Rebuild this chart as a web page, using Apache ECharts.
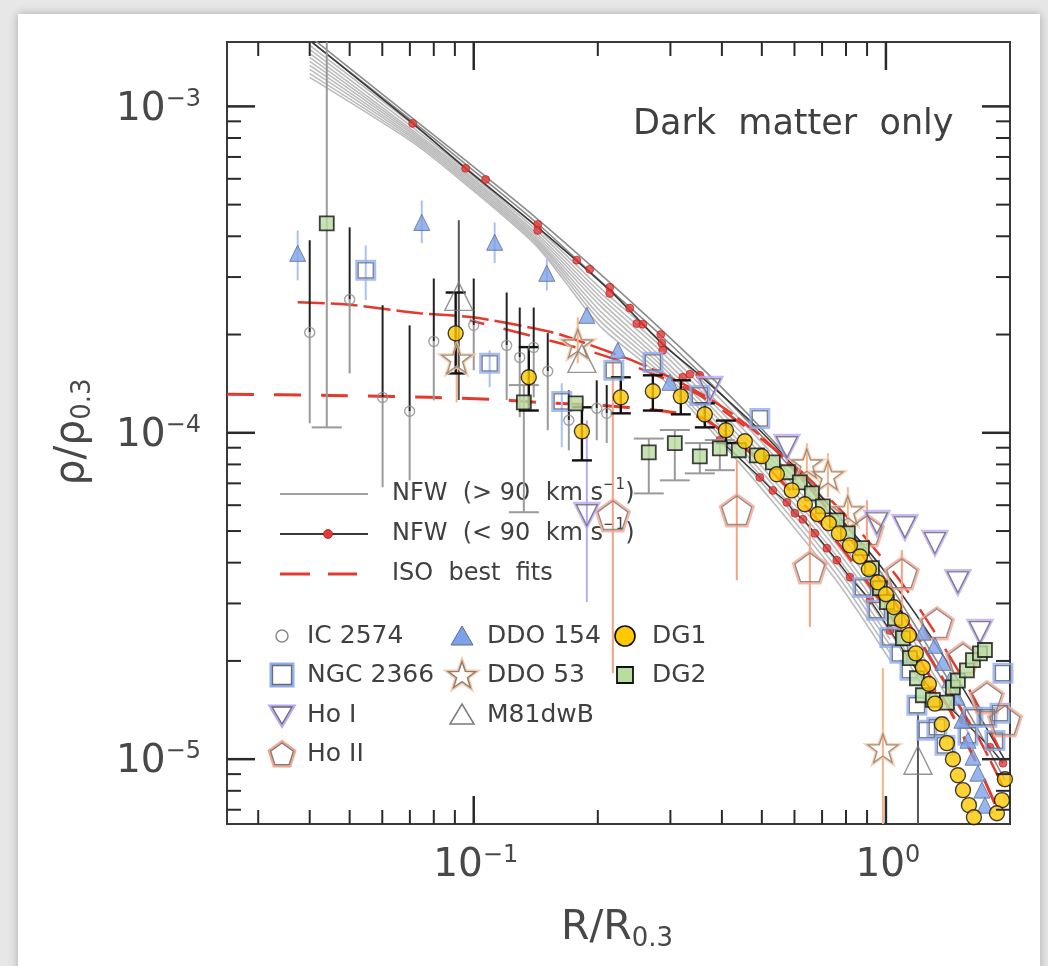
<!DOCTYPE html>
<html><head><meta charset="utf-8">
<script src="https://cdn.jsdelivr.net/npm/echarts@6/dist/echarts.min.js"></script>
<style>
html,body{margin:0;padding:0;background:#e7e7e7;width:1048px;height:966px;overflow:hidden}
#panel{position:absolute;left:18px;top:14px;width:1022px;height:970px;background:#fff;box-shadow:0 0 9px rgba(0,0,0,0.28)}
#chart{position:absolute;left:0;top:0;width:1048px;height:966px}
</style></head><body><div id="panel"></div><div id="chart"></div>
<script>
// ---------------- data ----------------
const xTickMajor = [0.1, 1];
const xTickExp = ['\u22121', '0'];
const xTickMinor = [0.03,0.04,0.05,0.06,0.07,0.08,0.09,0.2,0.3,0.4,0.5,0.6,0.7,0.8,0.9];
const yTickMajor = [1e-5, 1e-4, 1e-3];
const yTickExp = ['\u22125', '\u22124', '\u22123'];
const yTickMinor = [7e-6,8e-6,9e-6,2e-5,3e-5,4e-5,5e-5,6e-5,7e-5,8e-5,9e-5,2e-4,3e-4,4e-4,5e-4,6e-4,7e-4,8e-4,9e-4];

// NFW (> 90 km/s) grey curves
const nfwGrayX = [0.0400, 0.0711, 0.0956, 0.143, 0.202, 0.283, 0.395, 0.553, 0.773, 1.023, 1.279, 1.599, 1.944];
const nfwGray1  = [1.64e-3, 9.19e-4, 6.83e-4, 4.51e-4, 3.08e-4, 2.09e-4, 1.397e-4, 8.96e-5, 5.47e-5, 3.41e-5, 2.16e-5, 1.364e-5, 8.62e-6];
const nfwGray2  = [1.59e-3, 9.00e-4, 6.66e-4, 4.37e-4, 2.93e-4, 2.00e-4, 1.33e-4, 8.5e-5, 5.2e-5, 3.2e-5, 2.02e-5, 1.27e-5];
const nfwGray3  = [1.538e-3, 8.81e-4, 6.50e-4, 4.23e-4, 2.79e-4, 1.92e-4, 1.275e-4, 8.12e-5, 4.92e-5, 3.03e-5, 1.90e-5, 1.184e-5];
const nfwGray4  = [1.495e-3, 8.62e-4, 6.39e-4, 4.14e-4, 2.70e-4, 1.85e-4, 1.22e-4, 7.75e-5, 4.67e-5, 2.86e-5, 1.79e-5];
const nfwGray5  = [1.453e-3, 8.44e-4, 6.28e-4, 4.05e-4, 2.62e-4, 1.789e-4, 1.172e-4, 7.41e-5, 4.43e-5, 2.70e-5, 1.684e-5];
const nfwGray6  = [1.413e-3, 8.32e-4, 6.19e-4, 3.98e-4, 2.54e-4, 1.72e-4, 1.13e-4, 7.1e-5, 4.25e-5, 2.57e-5, 1.6e-5];
const nfwGray7  = [1.374e-3, 8.21e-4, 6.10e-4, 3.91e-4, 2.46e-4, 1.667e-4, 1.092e-4, 6.81e-5, 4.07e-5, 2.45e-5, 1.52e-5];
const nfwGray8  = [1.336e-3, 8.09e-4, 6.01e-4, 3.86e-4, 2.37e-4, 1.62e-4, 1.05e-4, 6.55e-5, 3.9e-5, 2.33e-5];
const nfwGray9  = [1.298e-3, 7.98e-4, 5.93e-4, 3.81e-4, 2.29e-4, 1.576e-4, 1.018e-4, 6.30e-5, 3.74e-5, 2.234e-5];
const nfwGray10 = [1.26e-3, 7.87e-4, 5.85e-4, 3.75e-4, 2.21e-4, 1.53e-4, 9.8e-5, 6.05e-5, 3.57e-5, 2.12e-5];
const nfwGray11 = [1.227e-3, 7.76e-4, 5.77e-4, 3.70e-4, 2.13e-4, 1.489e-4, 9.48e-5, 5.79e-5, 3.41e-5, 2.01e-5];

// NFW (< 90 km/s) black curves with red points
const nfwBlackX = [0.0400, 0.0711, 0.0956, 0.143, 0.2138, 0.2859, 0.3536, 0.4944, 0.692, 0.967, 1.279, 1.599, 1.944];
const nfwBlackY = [1.594e-3, 8.87e-4, 6.46e-4, 4.26e-4, 2.73e-4, 1.879e-4, 1.50e-4, 1.018e-4, 6.43e-5, 3.93e-5, 2.40e-5, 1.52e-5, 9.93e-6];
const nfwDotX = [0.0711, 0.0956, 0.1069, 0.143, 0.143, 0.1778, 0.1912, 0.2138, 0.2138, 0.2391, 0.2487, 0.2572, 0.2843, 0.2859, 0.2875, 0.3216, 0.3345, 0.3536];
const nfwDotY = [8.87e-4, 6.46e-4, 5.97e-4, 4.35e-4, 4.17e-4, 3.38e-4, 3.17e-4, 2.79e-4, 2.67e-4, 2.41e-4, 2.16e-4, 2.15e-4, 2.00e-4, 1.88e-4, 1.79e-4, 1.48e-4, 1.51e-4, 1.50e-4];
const nfwLowX = [0.3954, 0.4944, 0.5317, 0.575, 0.6014, 0.6289, 0.6724, 0.7191, 0.7603, 0.818, 0.9145, 1.023, 1.1435, 1.293, 1.538, 1.788, 1.923];
const nfwLowY = [9.48e-5, 7.30e-5, 6.66e-5, 6.12e-5, 5.67e-5, 5.43e-5, 4.92e-5, 4.43e-5, 4.07e-5, 3.61e-5, 3.07e-5, 2.48e-5, 2.01e-5, 1.626e-5, 1.316e-5, 1.088e-5, 9.72e-6];

// ISO best fits (red dashed)
const iso1X = [0.0252, 0.0447, 0.0782, 0.1112, 0.1422, 0.2022, 0.278, 0.3596, 0.418, 0.4944, 0.6183, 0.7734, 0.967, 1.209, 1.43, 1.691, 1.891];
const iso1Y = [1.312e-4, 1.302e-4, 1.284e-4, 1.266e-4, 1.240e-4, 1.214e-4, 1.172e-4, 1.107e-4, 9.69e-5, 8.24e-5, 6.21e-5, 4.52e-5, 3.07e-5, 2.01e-5, 1.413e-5, 9.25e-6, 6.73e-6];
const iso2X = [0.0374, 0.0492, 0.0739, 0.0995, 0.1555, 0.1988, 0.2487, 0.3162, 0.3954, 0.4944, 0.6183, 0.7734, 0.967, 1.209, 1.43, 1.691, 1.944];
const iso2Y = [2.51e-4, 2.474e-4, 2.323e-4, 2.258e-4, 2.03e-4, 1.827e-4, 1.644e-4, 1.428e-4, 1.214e-4, 9.82e-5, 7.41e-5, 5.21e-5, 3.53e-5, 2.31e-5, 1.626e-5, 1.14e-5, 8.04e-6];
const iso3X = [0.0978, 0.1881, 0.2487, 0.3536, 0.4676, 0.6183, 0.818, 1.081, 1.352, 1.644, 1.891];
const iso3Y = [2.21e-4, 1.789e-4, 1.587e-4, 1.302e-4, 1.018e-4, 7.68e-5, 5.40e-5, 3.53e-5, 2.31e-5, 1.52e-5, 1.065e-5];

// galaxies
const ic2574X  = [0.0400, 0.0500, 0.0601, 0.0699, 0.0800, 0.1000, 0.1202, 0.1293, 0.1398, 0.1512, 0.1701, 0.1988, 0.2102];
const ic2574Y  = [2.03e-4, 2.56e-4, 1.284e-4, 1.164e-4, 1.906e-4, 2.134e-4, 1.853e-4, 1.702e-4, 1.827e-4, 1.543e-4, 1.092e-4, 1.189e-4, 1.147e-4];
const ic2574Hi = [3.89e-4, 4.26e-4, 2.46e-4, 2.134e-4, 2.97e-4, 2.97e-4, 2.69e-4, 2.42e-4, 2.42e-4, 2.02e-4, 1.349e-4, 1.448e-4, 1.40e-4];
const ic2574Lo = [1.069e-4, 1.52e-4, 6.81e-5, 7.15e-5, 1.257e-4, 1.554e-4, 1.26e-4, 1.116e-4, 1.284e-4, 1.018e-4, 8.84e-5, 9.49e-5, 9.3e-5];

const ngc2366X  = [0.0547, 0.1093, 0.1635, 0.2187, 0.272, 0.3536, 0.4944, 0.8794, 0.9508, 1.0226, 1.0812, 1.1435, 1.1891, 1.257, 1.3293, 1.391, 1.581, 1.626, 1.758, 1.839, 1.891, 1.923];
const ngc2366Y  = [3.146e-4, 1.632e-4, 1.248e-4, 1.554e-4, 1.644e-4, 1.302e-4, 1.107e-4, 3.36e-5, 2.86e-5, 2.36e-5, 2.11e-5, 1.873e-5, 1.463e-5, 1.227e-5, 1.253e-5, 1.103e-5, 1.184e-5, 1.344e-5, 1.344e-5, 1.14e-5, 1.383e-5, 1.834e-5];
const ngc2366Lo = [2.55e-4, 1.378e-4, 9.03e-5];
const ngc2366Hi = [3.75e-4, 1.789e-4, 1.418e-4];

const hoIX  = [0.1881, 0.3741, 0.575, 0.9508, 1.112, 1.315, 1.495, 1.691];
const hoIY  = [5.59e-5, 1.359e-4, 9.03e-5, 5.28e-5, 5.13e-5, 4.59e-5, 3.48e-5, 2.45e-5];
const hoILo = [3.03e-5];
const hoIHi = [1.092e-4];

const hoIIX  = [0.2175, 0.4347, 0.6539, 0.8993, 1.093, 1.3293, 1.538, 1.758, 1.944];
const hoIIY  = [5.59e-5, 5.79e-5, 3.87e-5, 5.03e-5, 3.71e-5, 2.61e-5, 2.04e-5, 1.548e-5, 1.316e-5];
const hoIILo = [1.834e-5, 3.53e-5, 2.54e-5, 4.07e-5, 2.86e-5];
const hoIIHi = [1.667e-4, 8.24e-5, 5.28e-5, 6.21e-5, 4.37e-5];

const ddo154X  = [0.0374, 0.0748, 0.1124, 0.1504, 0.1881, 0.2236, 0.299, 1.229, 1.315, 1.375, 1.43, 1.487, 1.529, 1.581, 1.626, 1.672, 1.71, 1.739];
const ddo154Y  = [3.546e-4, 4.41e-4, 3.834e-4, 3.08e-4, 2.29e-4, 1.789e-4, 1.428e-4, 2.45e-5, 2.234e-5, 1.98e-5, 1.75e-5, 1.548e-5, 1.316e-5, 1.143e-5, 1.014e-5, 9.06e-6, 8.04e-6, 7.23e-6];
const ddo154Lo = [2.93e-4, 3.81e-4, 3.31e-4, 2.73e-4];
const ddo154Hi = [4.17e-4, 5.15e-4, 4.41e-4, 3.42e-4];

const ddo53X  = [0.0909, 0.1788, 0.6429, 0.7233, 0.8083, 0.9833];
const ddo53Y  = [1.69e-4, 1.879e-4, 8.06e-5, 7.41e-5, 5.79e-5, 1.08e-5];
const ddo53Lo = [1.24e-4, 1.632e-4, 6.81e-5, 6.34e-5, 5.03e-5, 5e-6];
const ddo53Hi = [1.989e-4, 2.258e-4, 9.29e-5, 8.65e-5, 6.81e-5, 1.90e-5];

const m81dwbX  = [0.092, 0.183, 1.196];
const m81dwbY  = [2.618e-4, 1.69e-4, 9.93e-6];
const m81dwbLo = [1.26e-4, null, 5e-6];
const m81dwbHi = [4.48e-4, null, 1.383e-5];

const dg1X  = [0.0904, 0.136, 0.183, 0.2274, 0.272, 0.318, 0.3636, 0.409, 0.4547, 0.5, 0.5437, 0.591, 0.6358, 0.6838, 0.727, 0.769, 0.818, 0.865, 0.909, 0.956, 1.0, 1.045, 1.093, 1.137, 1.182, 1.229, 1.271, 1.315, 1.367, 1.406, 1.454, 1.495, 1.538, 1.590, 1.635, 1.944, 1.912, 1.859];
const dg1Y  = [2.017e-4, 1.479e-4, 1.010e-4, 1.284e-4, 1.340e-4, 1.293e-4, 1.139e-4, 1.018e-4, 9.42e-5, 8.47e-5, 7.46e-5, 6.66e-5, 6.04e-5, 5.63e-5, 5.28e-5, 4.92e-5, 4.52e-5, 4.18e-5, 3.82e-5, 3.48e-5, 3.20e-5, 2.92e-5, 2.66e-5, 2.40e-5, 2.11e-5, 1.91e-5, 1.70e-5, 1.48e-5, 1.28e-5, 1.12e-5, 1.00e-5, 8.93e-6, 8.04e-6, 7.23e-6, 6.64e-6, 8.68e-6, 7.49e-6, 6.83e-6];
const dg1Lo = [1.52e-4, 1.17e-4, 8.23e-5, 1.147e-4, 1.17e-4, 1.139e-4, 1.039e-4, 9.3e-5];
const dg1Hi = [2.69e-4, 1.83e-4, 1.197e-4, 1.479e-4, 1.50e-4, 1.448e-4, 1.231e-4, 1.09e-4];

const dg2X  = [0.0440, 0.1323, 0.1768, 0.2659, 0.3075, 0.3536, 0.3954, 0.4397, 0.4862, 0.5317, 0.5781, 0.6183, 0.6612, 0.7031, 0.7603, 0.8083, 0.8743, 0.9247, 0.967, 1.0055, 1.0515, 1.0996, 1.1435, 1.1891, 1.229, 1.300, 1.406, 1.454, 1.495, 1.572, 1.626, 1.691, 1.739];
const dg2Y  = [4.38e-4, 1.240e-4, 1.231e-4, 8.71e-5, 9.29e-5, 8.47e-5, 8.96e-5, 8.84e-5, 8.53e-5, 8.12e-5, 7.57e-5, 7.05e-5, 6.52e-5, 5.95e-5, 5.39e-5, 4.92e-5, 4.43e-5, 3.85e-5, 3.34e-5, 3.03e-5, 2.70e-5, 2.35e-5, 2.04e-5, 1.77e-5, 1.57e-5, 1.52e-5, 1.49e-5, 1.66e-5, 1.74e-5, 1.87e-5, 2.01e-5, 2.11e-5, 2.16e-5];
const dg2Lo = [1.039e-4, 5.71e-5, null, 6.52e-5, 7.15e-5, 7.51e-5, 7.68e-5];
const dg2Hi = [2.0e-3, 1.40e-4, null, 9.6e-5, 1.02e-4, 9.3e-5, 9.5e-5];

// ---------------- rendering ----------------
const X_MIN = 0.0252, X_MAX = 2.0, Y_MIN = 6.33e-6, Y_MAX = 1.575e-3;
const FONT = 'DejaVu Sans';
const TXT = '#404040';
const PENT_PATH = 'path://M0,-10L9.511,-3.09L5.878,8.09L-5.878,8.09L-9.511,-3.09Z';
const STAR_PATH = 'path://M0,-10L2.35,-3.24L9.51,-3.09L3.8,1.24L5.88,8.09L0,4L-5.88,8.09L-3.8,1.24L-9.51,-3.09L-2.35,-3.24Z';
const CLEAR = 'rgba(255,255,255,0)';

function pts(xs, ys) { const o = []; for (let i = 0; i < ys.length; i++) if (ys[i] != null) o.push([xs[i], ys[i]]); return o; }
function lineS(xs, ys, color, width, dash, z, off) {
  return { type: 'line', data: pts(xs, ys), symbol: 'none', showSymbol: false, smooth: 0.25, z: z, silent: true, animation: false,
    lineStyle: { color: color, width: width, type: dash || 'solid', dashOffset: off || 0 } };
}
function scat(xs, ys, symbol, size, style, z, rot) {
  return { type: 'scatter', data: pts(xs, ys), symbol: symbol, symbolSize: size, symbolRotate: rot || 0, symbolKeepAspect: true,
    itemStyle: style, z: z, silent: true, animation: false };
}
function halo(xs, ys, symbol, size, haloColor, inner, z, rot) {
  return [scat(xs, ys, symbol, size + 3, { color: CLEAR, borderColor: haloColor, borderWidth: 3 }, z, rot),
          scat(xs, ys, symbol, size, { color: CLEAR, borderColor: inner, borderWidth: 1.3 }, z + 0.1, rot)];
}
function errS(xs, lo, hi, color, width, cap, z) {
  const data = [];
  for (let i = 0; i < xs.length; i++) if (lo[i] != null && hi[i] != null) data.push([xs[i], lo[i], hi[i]]);
  return { type: 'custom', data: data, clip: true, z: z, silent: true, animation: false,
    renderItem: function (params, api) {
      const x = api.value(0);
      const a = api.coord([x, api.value(1)]), b = api.coord([x, api.value(2)]);
      const st = { stroke: color, lineWidth: width };
      const ch = [{ type: 'line', shape: { x1: a[0], y1: a[1], x2: b[0], y2: b[1] }, style: st }];
      if (cap) {
        ch.push({ type: 'line', shape: { x1: a[0] - cap / 2, y1: a[1], x2: a[0] + cap / 2, y2: a[1] }, style: st });
        ch.push({ type: 'line', shape: { x1: b[0] - cap / 2, y1: b[1], x2: b[0] + cap / 2, y2: b[1] }, style: st });
      }
      return { type: 'group', children: ch };
    } };
}

const series = [];
// grey NFW band
[nfwGray1, nfwGray2, nfwGray3, nfwGray4, nfwGray5, nfwGray6, nfwGray7, nfwGray8, nfwGray9, nfwGray10, nfwGray11].forEach(function (ys, k) {
  series.push(lineS(nfwGrayX, ys, k < 2 ? '#8c8c8c' : '#bcbcbc', 1.6, 'solid', 1));
});
// NFW < 90 black lines
series.push(lineS(nfwBlackX, nfwBlackY, '#3a3a3a', 1.6, 'solid', 2));
series.push(lineS(nfwLowX, nfwLowY, '#3a3a3a', 1.4, 'solid', 2));
// ISO red dashed
series.push(lineS(iso1X, iso1Y, '#e5392d', 3, [27, 20], 3));
series.push(lineS(iso2X, iso2Y, '#e5392d', 2.5, [27, 6], 3));
series.push(lineS(iso3X, iso3Y, '#e5392d', 2.5, [27, 20], 3, 12));
// red NFW points
series.push(scat(nfwDotX, nfwDotY, 'circle', 8, { color: '#e03a35', borderColor: '#b02020', borderWidth: 0.8 }, 3.5));
series.push(scat(nfwLowX, nfwLowY, 'circle', 8, { color: '#e03a35', borderColor: '#b02020', borderWidth: 0.8 }, 3.5));
// error bars
series.push(errS(ic2574X, ic2574Y, ic2574Hi, '#222', 2, 0, 4));
series.push(errS(ic2574X, ic2574Lo, ic2574Y, '#9a9a9a', 2, 0, 4));
series.push(errS(ngc2366X, ngc2366Lo, ngc2366Hi, '#a9c3f3', 2, 0, 4));
series.push(errS(hoIX, hoILo, hoIHi, '#baaaf2', 2, 0, 4));
series.push(errS(hoIIX, hoIILo, hoIIHi, '#f6a184', 2, 0, 4));
series.push(errS(ddo154X, ddo154Lo, ddo154Hi, '#aac2f2', 2, 0, 4));
series.push(errS(ddo53X, ddo53Lo, ddo53Hi, '#f6b385', 2, 0, 4));
series.push(errS(m81dwbX, m81dwbLo, m81dwbHi, '#555', 2, 0, 4));
series.push(errS(dg2X, dg2Lo, dg2Hi, '#9a9a9a', 2, 30, 4));
series.push(errS(dg1X, dg1Lo, dg1Hi, '#111', 2.4, 20, 4));
// markers
series.push(scat(ic2574X, ic2574Y, 'circle', 10, { color: CLEAR, borderColor: '#8a8a8a', borderWidth: 1.4 }, 6));
series.push.apply(series, halo(ngc2366X, ngc2366Y, 'rect', 15, '#90aef0', '#6c6c6c', 6));
series.push.apply(series, halo(hoIIX, hoIIY, PENT_PATH, 30, '#f4a58e', '#7c7c7c', 6));
series.push.apply(series, halo(hoIX, hoIY, 'triangle', 21, '#bba9f5', '#6c6c6c', 6, 180));
series.push(scat(ddo154X, ddo154Y, 'triangle', 16, { color: '#7ea2e8', borderColor: '#5b6b95', borderWidth: 1 }, 6.5));
series.push.apply(series, halo(ddo53X, ddo53Y, STAR_PATH, 30, '#f6c9a8', '#8a7d72', 6));
series.push(scat(m81dwbX, m81dwbY, 'triangle', 28, { color: CLEAR, borderColor: '#7a7a7a', borderWidth: 1.4 }, 6.5));
series.push(scat(dg2X, dg2Y, 'rect', 14, { color: '#b9dca1', borderColor: '#111', borderWidth: 1.8 }, 7));
series.push(scat(dg1X, dg1Y, 'circle', 15, { color: '#ffc800', borderColor: '#111', borderWidth: 1.4 }, 7.5));

// axis ticks (all four sides) drawn through the axes' scales
const tickData = [];
xTickMajor.forEach(v => tickData.push([v, Y_MIN, 0]));
xTickMinor.forEach(v => tickData.push([v, Y_MIN, 1]));
yTickMajor.forEach(v => tickData.push([X_MIN, v, 2]));
yTickMinor.forEach(v => tickData.push([X_MIN, v, 3]));
series.push({ type: 'custom', data: tickData, clip: false, z: 20, silent: true, animation: false,
  renderItem: function (params, api) {
    const k = api.value(2);
    const st = { stroke: '#2a2a2a', lineWidth: (k === 0 || k === 2) ? 2.5 : 2 };
    const len = (k === 0 || k === 2) ? 28 : 14;
    if (k < 2) {
      const v = api.value(0);
      const b = api.coord([v, Y_MIN]), t = api.coord([v, Y_MAX]);
      return { type: 'group', children: [
        { type: 'line', shape: { x1: b[0], y1: b[1], x2: b[0], y2: b[1] - len }, style: st },
        { type: 'line', shape: { x1: t[0], y1: t[1], x2: t[0], y2: t[1] + len }, style: st }] };
    }
    const v = api.value(1);
    const l = api.coord([X_MIN, v]), r = api.coord([X_MAX, v]);
    return { type: 'group', children: [
      { type: 'line', shape: { x1: l[0], y1: l[1], x2: l[0] + len, y2: l[1] }, style: st },
      { type: 'line', shape: { x1: r[0], y1: r[1], x2: r[0] - len, y2: r[1] }, style: st }] };
  } });

// tick labels 10^n
const labRich = {
  a: { fontSize: 39, fontFamily: FONT, fill: '#484848', lineHeight: 44, verticalAlign: 'middle' },
  b: { fontSize: 24, fontFamily: FONT, fill: '#484848', lineHeight: 24, verticalAlign: 'top' }
};
const labData = [];
xTickMajor.forEach((v, i) => labData.push([v, Y_MIN, 0, i]));
yTickMajor.forEach((v, i) => labData.push([X_MIN, v, 1, i]));
series.push({ type: 'custom', data: labData, clip: false, z: 20, silent: true, animation: false,
  renderItem: function (params, api) {
    const k = api.value(2), i = api.value(3);
    const p = api.coord([api.value(0), api.value(1)]);
    if (k === 0) {
      return { type: 'text', x: p[0] + 2, y: p[1] + 20,
        style: { text: '{a|10}{b|' + xTickExp[i] + '}', rich: labRich, align: 'center', verticalAlign: 'top' } };
    }
    return { type: 'text', x: p[0] - 26, y: p[1] + 3,
      style: { text: '{a|10}{b|' + yTickExp[i] + '}', rich: labRich, align: 'right', verticalAlign: 'middle' } };
  } });

// ---------------- legend & annotations (graphic) ----------------
const PENT = [[0,-10],[9.511,-3.09],[5.878,8.09],[-5.878,8.09],[-9.511,-3.09]];
const STAR = [[0,-10],[2.35,-3.24],[9.51,-3.09],[3.8,1.24],[5.88,8.09],[0,4],[-5.88,8.09],[-3.8,1.24],[-9.51,-3.09],[-2.35,-3.24]];
function place(shape, cx, cy, s) { return shape.map(p => [cx + p[0] * s, cy + p[1] * s]); }
function txt(x, y, text, size, extra) {
  return Object.assign({ type: 'text', x: x, y: y, silent: true,
    style: { text: text, font: size + 'px ' + FONT, fill: TXT, align: 'left', verticalAlign: 'middle', textAlign: 'left', textVerticalAlign: 'middle' } }, extra || {});
}
const legRich = {
  t: { fontSize: 24, fontFamily: FONT, fill: TXT, lineHeight: 32, verticalAlign: 'middle' },
  s: { fontSize: 15, fontFamily: FONT, fill: TXT, lineHeight: 15, verticalAlign: 'top' }
};
const g = [];
// line legend
g.push({ type: 'line', shape: { x1: 280, y1: 494, x2: 368, y2: 494 }, style: { stroke: '#a0a0a0', lineWidth: 2 } });
g.push({ type: 'text', x: 392, y: 494, style: { text: '{t|NFW  (> 90  km s}{s|\u22121}{t|)}', rich: legRich, align: 'left', verticalAlign: 'middle' } });
g.push({ type: 'line', shape: { x1: 280, y1: 534, x2: 368, y2: 534 }, style: { stroke: '#3a3a3a', lineWidth: 2 } });
g.push({ type: 'circle', shape: { cx: 328, cy: 534, r: 4.5 }, style: { fill: '#e03a35', stroke: '#b02020', lineWidth: 0.8 } });
g.push({ type: 'text', x: 392, y: 534, style: { text: '{t|NFW  (< 90  km s}{s|\u22121}{t|)}', rich: legRich, align: 'left', verticalAlign: 'middle' } });
g.push({ type: 'line', shape: { x1: 280, y1: 574, x2: 310, y2: 574 }, style: { stroke: '#e5392d', lineWidth: 3 } });
g.push({ type: 'line', shape: { x1: 328, y1: 574, x2: 357, y2: 574 }, style: { stroke: '#e5392d', lineWidth: 3 } });
g.push(txt(392, 574, 'ISO  best  fits', 24));
// symbol legend
const R1 = 636, R2 = 675, R3 = 715, R4 = 754;
g.push({ type: 'circle', shape: { cx: 282, cy: R1, r: 6 }, style: { fill: 'none', stroke: '#8a8a8a', lineWidth: 1.5 } });
g.push(txt(307, R1, 'IC 2574', 25));
g.push({ type: 'rect', shape: { x: 271, y: R2 - 11, width: 22, height: 22 }, style: { fill: 'none', stroke: '#90aef0', lineWidth: 3 } });
g.push({ type: 'rect', shape: { x: 272.5, y: R2 - 9.5, width: 19, height: 19 }, style: { fill: 'none', stroke: '#6c6c6c', lineWidth: 1.3 } });
g.push(txt(307, R2, 'NGC 2366', 25));
g.push({ type: 'polygon', shape: { points: [[270, R3 - 9], [294, R3 - 9], [282, R3 + 11]] }, style: { fill: 'none', stroke: '#bba9f5', lineWidth: 3 } });
g.push({ type: 'polygon', shape: { points: [[272, R3 - 8], [292, R3 - 8], [282, R3 + 9]] }, style: { fill: 'none', stroke: '#6c6c6c', lineWidth: 1.3 } });
g.push(txt(307, R3, 'Ho I', 25));
g.push({ type: 'polygon', shape: { points: place(PENT, 282, R4 + 1, 1.35) }, style: { fill: 'none', stroke: '#f4a58e', lineWidth: 3 } });
g.push({ type: 'polygon', shape: { points: place(PENT, 282, R4 + 1, 1.2) }, style: { fill: 'none', stroke: '#7c7c7c', lineWidth: 1.3 } });
g.push(txt(307, R4, 'Ho II', 25));
g.push({ type: 'polygon', shape: { points: [[462, R1 - 10], [473, R1 + 9], [451, R1 + 9]] }, style: { fill: '#7ea2e8', stroke: '#5b6b95', lineWidth: 1 } });
g.push(txt(487, R1, 'DDO 154', 25));
g.push({ type: 'polygon', shape: { points: place(STAR, 462, R2 + 1, 1.6) }, style: { fill: 'none', stroke: '#f6c9a8', lineWidth: 3 } });
g.push({ type: 'polygon', shape: { points: place(STAR, 462, R2 + 1, 1.45) }, style: { fill: 'none', stroke: '#8a7d72', lineWidth: 1.3 } });
g.push(txt(487, R2, 'DDO 53', 25));
g.push({ type: 'polygon', shape: { points: [[462, R3 - 11], [474, R3 + 9], [450, R3 + 9]] }, style: { fill: 'none', stroke: '#7a7a7a', lineWidth: 1.5 } });
g.push(txt(487, R3, 'M81dwB', 25));
g.push({ type: 'circle', shape: { cx: 625, cy: R1, r: 10 }, style: { fill: '#ffc800', stroke: '#111', lineWidth: 1.6 } });
g.push(txt(652, R1, 'DG1', 25));
g.push({ type: 'rect', shape: { x: 617, y: R2 - 8, width: 16, height: 16 }, style: { fill: '#b9dca1', stroke: '#111', lineWidth: 1.8 } });
g.push(txt(652, R2, 'DG2', 25));
// annotation
g.push(txt(633, 125, 'Dark  matter  only', 35));
// axis titles
const titleRich = {
  a: { fontSize: 41, fontFamily: FONT, fill: '#484848', lineHeight: 48, verticalAlign: 'middle' },
  b: { fontSize: 26, fontFamily: FONT, fill: '#484848', lineHeight: 26, verticalAlign: 'bottom' }
};
g.push({ type: 'text', x: 617, y: 928, style: { text: '{a|R/R}{b|0.3}', rich: titleRich, align: 'center', verticalAlign: 'middle' } });
g.push({ type: 'text', x: 72, y: 432, rotation: Math.PI / 2, style: { text: '{a|\u03C1/\u03C1}{b|0.3}', rich: titleRich, align: 'center', verticalAlign: 'middle' } });

const chart = echarts.init(document.getElementById('chart'), null, { renderer: 'canvas' });
chart.setOption({
  animation: false,
  backgroundColor: 'transparent',
  grid: { left: 227, top: 42, width: 783, height: 782, show: true, borderColor: '#3a3a3a', borderWidth: 2, backgroundColor: 'transparent' },
  xAxis: { type: 'log', logBase: 10, min: X_MIN, max: X_MAX, axisLine: { show: false }, axisTick: { show: false }, axisLabel: { show: false }, splitLine: { show: false } },
  yAxis: { type: 'log', logBase: 10, min: Y_MIN, max: Y_MAX, axisLine: { show: false }, axisTick: { show: false }, axisLabel: { show: false }, splitLine: { show: false } },
  series: series,
  graphic: { elements: g }
});
</script></body></html>
